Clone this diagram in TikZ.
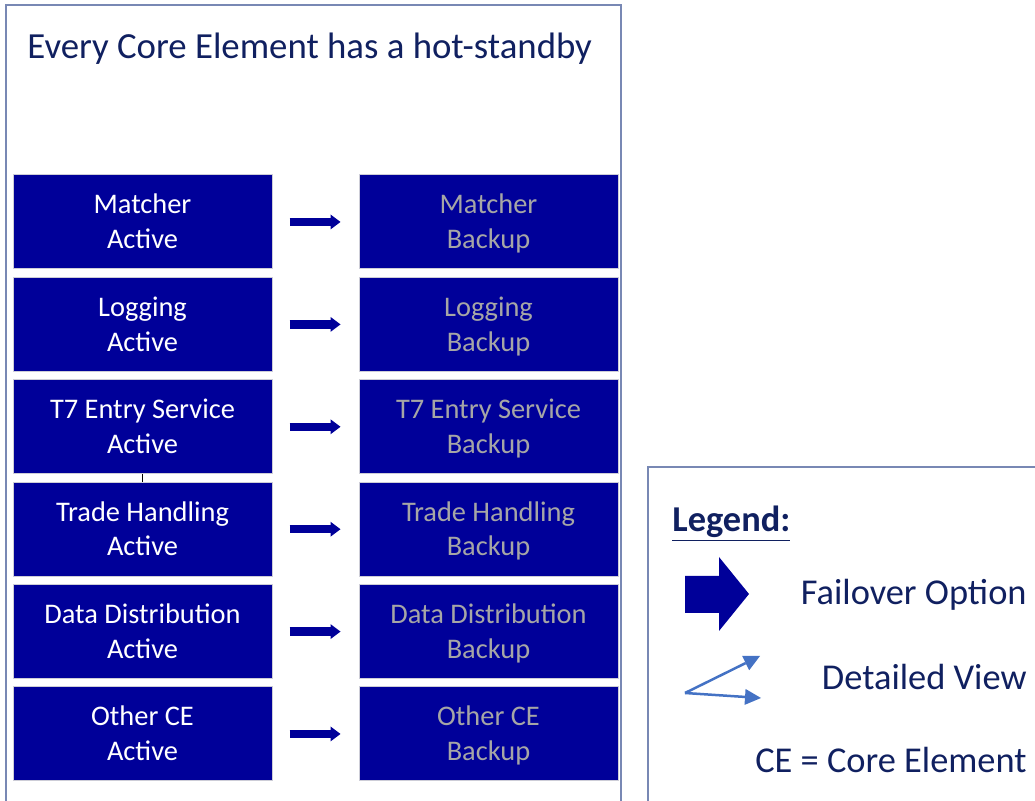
\documentclass[tikz,border=0pt]{standalone}
\usepackage{fontspec}
\setmainfont{Carlito}
\usetikzlibrary{arrows.meta}
\definecolor{ceblue}{RGB}{0,0,153}
\definecolor{navy}{RGB}{16,32,96}
\definecolor{grey}{RGB}{166,166,166}
\definecolor{boxedge}{RGB}{205,205,215}
\definecolor{frameblue}{RGB}{120,136,180}
\definecolor{viewblue}{RGB}{68,114,196}
\newcommand\topstrut{\rule{0pt}{14.5pt}}

\begin{document}
\begin{tikzpicture}[x=0.5pt,y=-0.5pt,
  every node/.style = {font=\fontsize{14.2}{17.4}\selectfont},
  ce/.style = {rectangle, fill=ceblue, draw=boxedge, line width=0.5pt,
    minimum width=129.5pt, minimum height=47pt, inner sep=0pt, align=center},
  active/.style = {ce, text=white},
  backup/.style = {ce, text=grey},
  failover/.style = {ceblue, line width=4.25pt,
    -{Triangle[length=5pt,width=7.5pt,line width=0pt]},
    shorten <=8.5pt, shorten >=9pt},
  detail/.style = {viewblue, line width=1.25pt,
    -{Triangle[length=8pt,width=8pt,line width=0pt]}},
  frame/.style = {frameblue, line width=1pt},
  bigtext/.style = {inner sep=0pt, text=navy, font=\fontsize{18.2}{22}\selectfont}]

\useasboundingbox (0,0) rectangle (1035,801);
\clip (0,0) rectangle (1035,801);

% frames
\draw[frame] (6,815) -- (6,5) -- (621,5) -- (621,815);
\draw[frame] (648,815) -- (648,467) -- (1045,467);

\node[bigtext, anchor=west, font=\fontsize{18.4}{22}\selectfont] (title) at (27,49) {Every Core Element has a hot-standby};

% core elements and their hot-standby
\foreach \i/\name in {1/Matcher, 2/Logging, 3/T7 Entry Service,
  4/Trade Handling, 5/Data Distribution, 6/Other CE}
{
	\node[active] (act\i) at (142.5,{222+(\i-1)*102.4}) {\topstrut\name\\Active\strut};
	\node[backup] (bak\i) at (488.5,{222+(\i-1)*102.4}) {\topstrut\name\\Backup\strut};
	\draw[failover] (act\i) -- (bak\i);
};

\draw[line width=0.7pt] (act3) -- (act4);

% legend
\node[bigtext, anchor=west, font=\fontsize{18.2}{22}\selectfont\bfseries] (legend) at (672,524) {\underline{Legend:}};

\fill[ceblue] (685,576) -- (719,576) -- (719,557) -- (749,594) -- (719,631)
  -- (719,613) -- (685,613) -- cycle;
\node[bigtext, anchor=east] (fail) at (1027,595) {Failover Option};

\coordinate (dv) at (685,693);
\coordinate (dvup) at (760,656);
\coordinate (dvdn) at (761,698);
\draw[detail] (dv) -- (dvup);
\draw[detail] (dv) -- (dvdn);
\node[bigtext, anchor=east] (view) at (1027,677) {Detailed View};

\node[bigtext, anchor=east] (cedef) at (1027,760) {CE = Core Element};
\end{tikzpicture}
\end{document}
